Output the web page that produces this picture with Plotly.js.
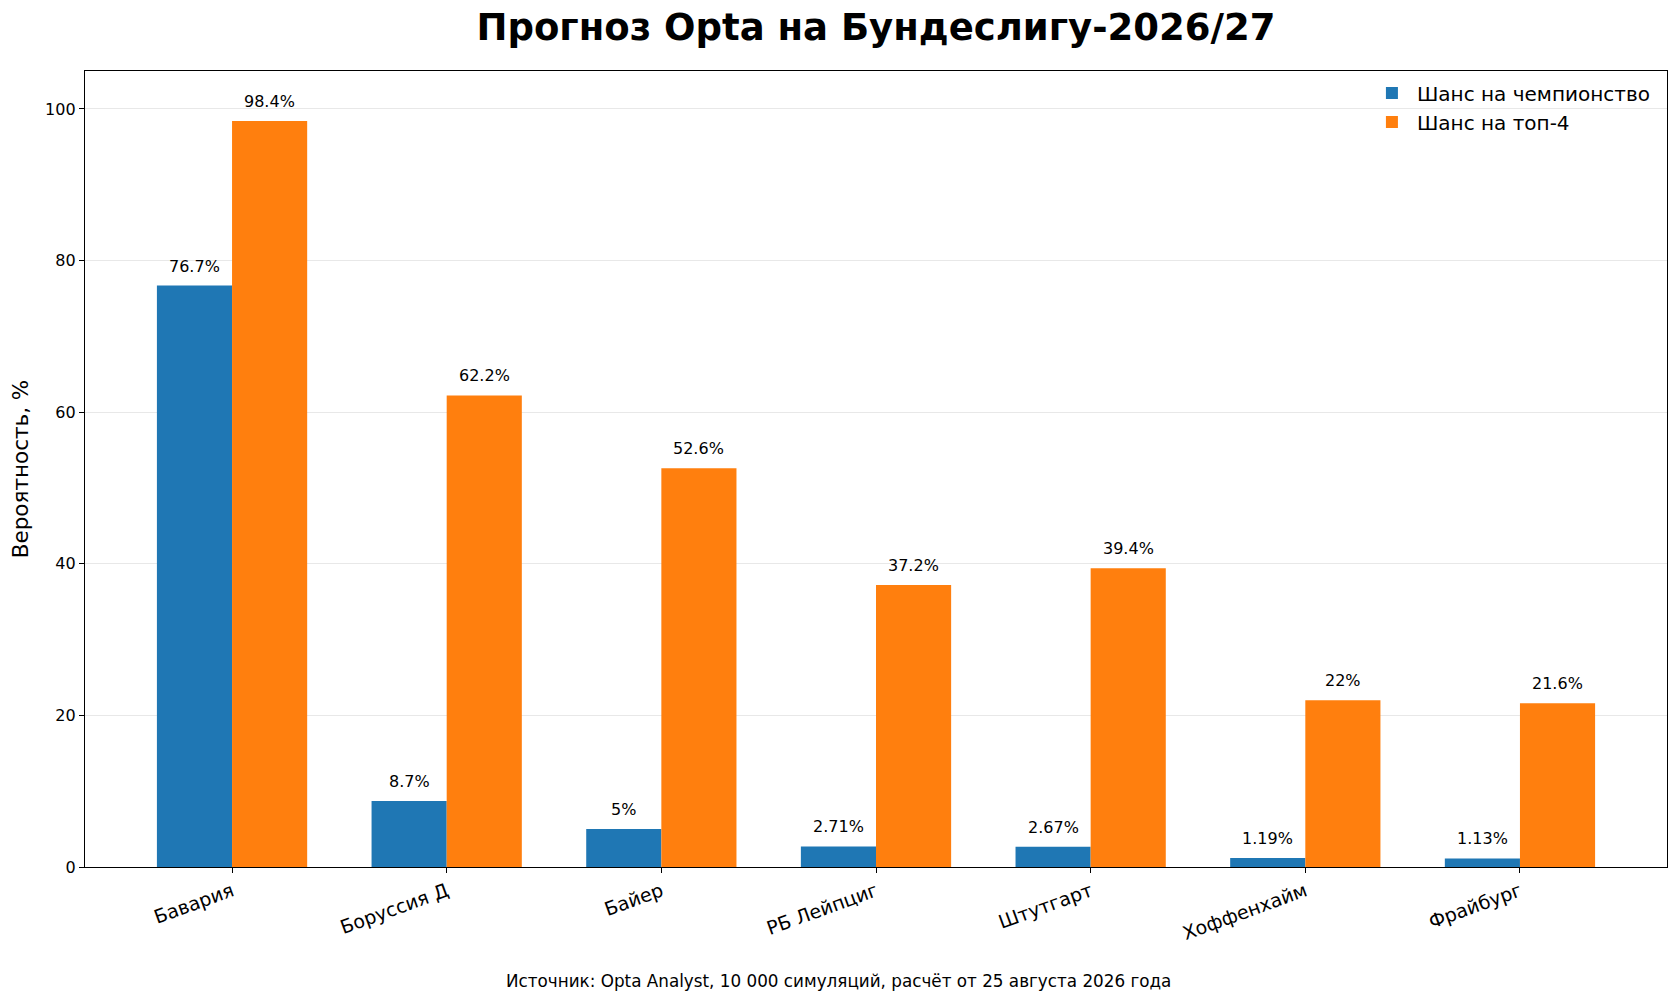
<!DOCTYPE html>
<html>
<head>
<meta charset="utf-8">
<script src="https://cdn.plot.ly/plotly-3.0.1.min.js"></script>
<style>
  body { margin: 0; background: #ffffff; }
  #chart { width: 1680px; height: 1004px; }
</style>
</head>
<body>
<div id="chart"></div>
<script>
// данные прогноза Opta
const clubs = ["Бавария", "Боруссия Д", "Байер", "РБ Лейпциг", "Штутгарт", "Хоффенхайм", "Фрайбург"];
const champion = [76.7, 8.7, 5, 2.71, 2.67, 1.19, 1.13];
const top4 = [98.4, 62.2, 52.6, 37.2, 39.4, 22, 21.6];
const yTicks = [0, 20, 40, 60, 80, 100];

const barW = 0.35;
const idx = clubs.map((c, i) => i);
const font = "DejaVu Sans, Liberation Sans, sans-serif";

function fmt(v) {
    return v + "%";
}

const champTrace = {
    x: idx.map(i => i - barW / 2),
    y: champion,
    width: barW,
    type: 'bar',
    name: 'Шанс на чемпионство',
    marker: { color: '#1f77b4' },
    hoverinfo: 'y'
};
const top4Trace = {
    x: idx.map(i => i + barW / 2),
    y: top4,
    width: barW,
    type: 'bar',
    name: 'Шанс на топ-4',
    marker: { color: '#ff7f0e' },
    hoverinfo: 'y'
};

let notes = [];
idx.forEach(i => {
    notes.push({ x: i - barW / 2, y: champion[i], text: fmt(champion[i]),
        showarrow: false, yanchor: 'bottom', yshift: 8,
        font: { family: font, size: 16, color: '#000' } });
    notes.push({ x: i + barW / 2, y: top4[i], text: fmt(top4[i]),
        showarrow: false, yanchor: 'bottom', yshift: 8,
        font: { family: font, size: 16, color: '#000' } });
});
notes.push({
    xref: 'paper', yref: 'paper', x: 0.476, y: -0.143,
    xanchor: 'center', yanchor: 'middle', showarrow: false,
    text: 'Источник: Opta Analyst, 10 000 симуляций, расчёт от 25 августа 2026 года',
    font: { family: font, size: 16.8, color: '#000' }
});

Plotly.newPlot('chart', [champTrace, top4Trace], {
    width: 1680,
    height: 1004,
    paper_bgcolor: '#ffffff',
    plot_bgcolor: '#ffffff',
    barmode: 'overlay',
    margin: { l: 85, r: 13, t: 71, b: 137 },
    font: { family: font, color: '#000' },
    title: {
        text: '<b>Прогноз Opta на Бундеслигу-2026/27</b>',
        xref: 'paper', x: 0.5, xanchor: 'center',
        y: 0.973, yanchor: 'middle',
        font: { family: font, size: 37, color: '#000' }
    },
    xaxis: {
        range: [-0.685, 6.685],
        tickvals: idx,
        ticktext: clubs,
        tickangle: -20,
        ticks: 'outside', ticklen: 5, tickcolor: '#000',
        tickfont: { family: font, size: 19, color: '#000' },
        showline: true, linecolor: '#000', linewidth: 1.2, mirror: true,
        showgrid: false, zeroline: false
    },
    yaxis: {
        range: [0, 105],
        tickvals: yTicks,
        ticks: 'outside', ticklen: 5, tickcolor: '#000',
        tickfont: { family: font, size: 16, color: '#000' },
        showline: true, linecolor: '#000', linewidth: 1.2, mirror: true,
        showgrid: true, gridcolor: '#e8e8e8', gridwidth: 1,
        zeroline: false,
        title: { text: 'Вероятность, %', font: { family: font, size: 21.5, color: '#000' }, standoff: 10 }
    },
    legend: {
        x: 0.993, xanchor: 'right', y: 0.997, yanchor: 'top',
        bgcolor: 'rgba(0,0,0,0)',
        font: { family: font, size: 20, color: '#000' },
        itemwidth: 40,
        traceorder: 'normal'
    },
    annotations: notes,
    showlegend: true
}, { displayModeBar: false, staticPlot: true });
</script>
</body>
</html>
